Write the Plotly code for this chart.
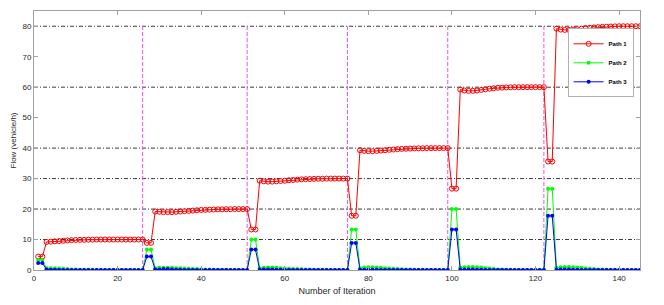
import plotly.graph_objects as go

# ---------------- data ----------------
iterations = list(range(1, 146))

path1 = (
    [4.4, 4.4, 9.2, 9.3, 9.4, 9.5, 9.6, 9.7, 9.8, 9.85, 9.9, 9.9, 9.95, 9.95, 10, 10, 10, 10, 10, 10, 10, 10, 10, 10, 10, 10]
    + [8.9, 8.9]
    + [19.2, 19.1, 19.0, 19.0, 19.0, 19.1, 19.2, 19.3, 19.4, 19.5, 19.6, 19.7, 19.75, 19.8, 19.85, 19.9, 19.9, 19.95, 19.95, 20, 20, 20, 20]
    + [13.3, 13.3]
    + [29.3, 29.1, 29.0, 29.0, 29.1, 29.2, 29.3, 29.45, 29.55, 29.65, 29.75, 29.8, 29.85, 29.9, 29.95, 29.95, 30, 30, 30, 30, 30, 30]
    + [17.8, 17.8]
    + [39.3, 39.1, 39.0, 39.0, 39.1, 39.2, 39.3, 39.45, 39.55, 39.65, 39.75, 39.8, 39.85, 39.9, 39.95, 39.95, 40, 40, 40, 40, 40, 40]
    + [26.7, 26.7]
    + [59.2, 58.9, 58.8, 58.8, 58.9, 59.1, 59.3, 59.5, 59.65, 59.8, 59.85, 59.9, 59.95, 60, 60, 60, 60, 60, 60, 60, 60]
    + [35.6, 35.6]
    + [79.2, 78.9, 78.8, 78.8, 78.9, 79.0, 79.2, 79.4, 79.5, 79.6, 79.7, 79.8, 79.85, 79.9, 79.95, 80, 80, 80, 80, 80, 80]
)

path2 = (
    [3.3, 3.3, 0.6, 0.6, 0.55, 0.5, 0.4, 0.3, 0.2, 0.15, 0.1, 0.1, 0.05, 0.05, 0, 0, 0, 0, 0, 0, 0, 0, 0, 0, 0, 0]
    + [6.7, 6.7]
    + [0.6, 0.7, 0.7, 0.7, 0.7, 0.6, 0.55, 0.5, 0.4, 0.35, 0.3, 0.25, 0.2, 0.15, 0.1, 0.08, 0.06, 0.05, 0.03, 0, 0, 0, 0]
    + [10, 10]
    + [0.6, 0.7, 0.8, 0.8, 0.7, 0.6, 0.5, 0.45, 0.35, 0.3, 0.25, 0.2, 0.15, 0.1, 0.05, 0.05, 0, 0, 0, 0, 0, 0]
    + [13.3, 13.3]
    + [0.6, 0.8, 0.9, 0.9, 0.8, 0.7, 0.6, 0.5, 0.4, 0.3, 0.25, 0.2, 0.15, 0.1, 0.05, 0.05, 0, 0, 0, 0, 0, 0]
    + [20, 20]
    + [0.7, 0.9, 1.0, 1.0, 0.9, 0.8, 0.6, 0.5, 0.35, 0.2, 0.15, 0.1, 0.05, 0, 0, 0, 0, 0, 0, 0, 0]
    + [26.7, 26.7]
    + [0.7, 0.9, 1.0, 1.0, 0.9, 0.8, 0.7, 0.5, 0.4, 0.3, 0.2, 0.15, 0.1, 0.05, 0.05, 0, 0, 0, 0, 0, 0]
)

path3 = (
    [2.3, 2.3, 0.2, 0.1, 0.05, 0, 0, 0, 0, 0, 0, 0, 0, 0, 0, 0, 0, 0, 0, 0, 0, 0, 0, 0, 0, 0]
    + [4.4, 4.4]
    + [0.2, 0.2, 0.3, 0.3, 0.2, 0.1, 0.05, 0, 0, 0, 0, 0, 0, 0, 0, 0, 0, 0, 0, 0, 0, 0, 0]
    + [6.7, 6.7]
    + [0.1, 0.2, 0.2, 0.2, 0.1, 0.05, 0, 0, 0, 0, 0, 0, 0, 0, 0, 0, 0, 0, 0, 0, 0, 0]
    + [8.9, 8.9]
    + [0.1, 0.1, 0.1, 0.1, 0.05, 0, 0, 0, 0, 0, 0, 0, 0, 0, 0, 0, 0, 0, 0, 0, 0, 0]
    + [13.3, 13.3]
    + [0.1, 0.2, 0.2, 0.2, 0.1, 0.05, 0, 0, 0, 0, 0, 0, 0, 0, 0, 0, 0, 0, 0, 0, 0]
    + [17.8, 17.8]
    + [0.1, 0.2, 0.2, 0.2, 0.1, 0.05, 0, 0, 0, 0, 0, 0, 0, 0, 0, 0, 0, 0, 0, 0, 0]
)

demand_levels = [10, 20, 30, 40, 60, 80]
change_iterations = [26, 51, 75, 99, 122]

x_ticks = [0, 20, 40, 60, 80, 100, 120, 140]
y_ticks = [0, 10, 20, 30, 40, 50, 60, 70, 80]

FONT = "Liberation Sans, Arial, Helvetica, sans-serif"

fig = go.Figure()

# demand level reference lines (dash-dot)
for lvl in demand_levels:
    fig.add_trace(go.Scatter(
        x=[0, 145], y=[lvl, lvl], mode="lines",
        line=dict(color="#3a3a3a", width=1, dash="4px,2px,1px,2px"),
        showlegend=False, hoverinfo="skip"))

# demand change markers (magenta dashed)
for xc in change_iterations:
    fig.add_trace(go.Scatter(
        x=[xc, xc], y=[0, 80], mode="lines",
        line=dict(color="#f050f0", width=1, dash="4px,2px"),
        showlegend=False, hoverinfo="skip"))

fig.add_trace(go.Scatter(
    x=iterations, y=path1, mode="lines+markers", name="Path 1",
    line=dict(color="#ff0000", width=1),
    marker=dict(symbol="circle-open", size=5, color="#ff0000", line=dict(width=1))))
fig.add_trace(go.Scatter(
    x=iterations, y=path2, mode="lines+markers", name="Path 2",
    line=dict(color="#00ff00", width=1),
    marker=dict(symbol="circle", size=4, color="#00ff00")))
fig.add_trace(go.Scatter(
    x=iterations, y=path3, mode="lines+markers", name="Path 3",
    line=dict(color="#0000ff", width=1),
    marker=dict(symbol="circle", size=4, color="#0000ff")))

axis_common = dict(
    showgrid=False, zeroline=False, showline=True, mirror="ticks",
    linecolor="#a0a0a0", linewidth=1, ticks="inside", ticklen=4,
    tickcolor="#a0a0a0", tickwidth=1, automargin=False,
    tickfont=dict(family=FONT, size=8, color="#262626"),
)

fig.update_layout(
    width=664, height=305,
    margin=dict(l=34, r=24, t=11, b=35),
    paper_bgcolor="white", plot_bgcolor="white",
    font=dict(family=FONT, color="#262626"),
    xaxis=dict(range=[0, 145], tickvals=x_ticks,
               title=dict(text="Number of Iteration", font=dict(family=FONT, size=9, color="#262626"), standoff=6),
               **axis_common),
    yaxis=dict(range=[0, 85], tickvals=y_ticks,
               title=dict(text="Flow (vehicle/h)", font=dict(family=FONT, size=8, color="#262626"), standoff=4),
               **axis_common),
    legend=dict(x=0.935, y=0.80, xanchor="center", yanchor="middle",
                bgcolor="white", bordercolor="#b0b0b0", borderwidth=1,
                font=dict(family=FONT, size=6, color="#000000", weight="bold"),
                itemwidth=30, tracegroupgap=0),
    showlegend=True,
)

fig.write_html(
    "out.html",
    config={"displayModeBar": False},
    post_script="document.body.style.margin='0';document.body.style.overflow='hidden';",
)
